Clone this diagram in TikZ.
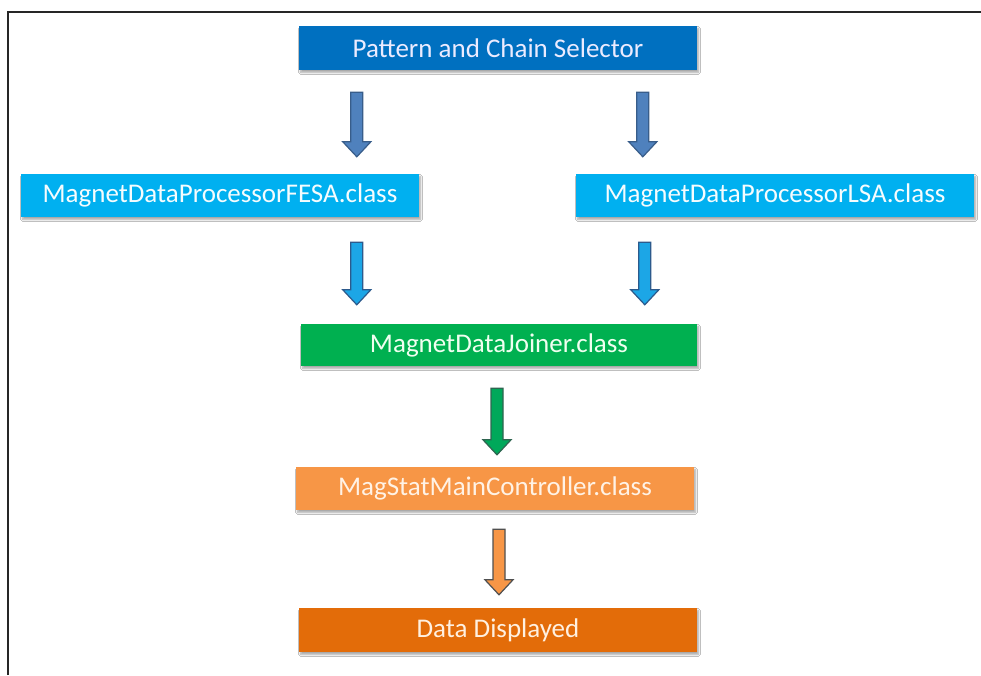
\documentclass[tikz,border=0pt]{standalone}
\usepackage{fontspec}
\setmainfont{Carlito}
\usetikzlibrary{calc,shadows.blur}

\definecolor{selblue}{HTML}{0070C0}
\definecolor{procblue}{HTML}{00B0F0}
\definecolor{joingreen}{HTML}{00B050}
\definecolor{ctrlorange}{HTML}{F79646}
\definecolor{disporange}{HTML}{E36C09}
\definecolor{steel}{HTML}{4F81BD}
\definecolor{steeldark}{HTML}{385D8A}
\definecolor{skyarrow}{HTML}{1CA6E6}
\definecolor{skyedge}{HTML}{2C5A8C}
\definecolor{greenarrow}{HTML}{00A85A}
\definecolor{greenedge}{HTML}{2F6550}
\definecolor{orangeedge}{HTML}{505050}

\tikzset{
  stage/.style={rectangle, minimum width=398pt, minimum height=43pt,
    inner sep=0pt, font=\fontsize{27}{31}\selectfont,
    blur shadow={shadow xshift=1.5pt, shadow yshift=-2.5pt,
      shadow blur steps=6, shadow opacity=35}},
  blockarrow/.style={line width=1.2pt, line join=miter}
}

% block arrow from a start point (top of shaft) to an end point (tip)
\newcommand\blockarrow[3]{%
  \draw[blockarrow,#1] let \p1=(#2), \p2=(#3) in
    (\x1-6pt,\y1) -- (\x1+6pt,\y1) -- (\x1+6pt,\y2+15pt) -- (\x1+14pt,\y2+15pt)
    -- (\x1,\y2) -- (\x1-14pt,\y2+15pt) -- (\x1-6pt,\y2+15pt) -- cycle;}

\begin{document}
\begin{tikzpicture}[x=1pt,y=-1pt]
  \useasboundingbox (0,0) rectangle (981,675);
  \fill[white] (0,0) rectangle (981,675);

  % frame edges
  \draw[line width=2.2pt, black!85] (8,675) -- (8,12) -- (981,12);

  % stages
  \node[stage, fill=selblue, text=blue!8!white, minimum height=44pt] (sel) at (498,48) {Pattern and Chain Selector};
  \node[stage, fill=procblue, text=white!96!cyan] (fesa) at (220,195.5) {MagnetDataProcessorFESA.class};
  \node[stage, fill=procblue, text=white!96!cyan] (lsa) at (775,195.5) {MagnetDataProcessorLSA.class};
  \node[stage, fill=joingreen, text=green!6!white, minimum width=396pt, minimum height=42pt] (join) at (499,345) {MagnetDataJoiner.class};
  \node[stage, fill=ctrlorange, text=orange!10!white] (ctrl) at (495,488.5) {MagStatMainController.class};
  \node[stage, fill=disporange, text=orange!12!white, minimum height=44pt] (disp) at (498,630) {Data Displayed};

  % arrow end points, placed relative to the stages they join
  \coordinate (a1s) at ($(sel.south west)+(58,22)$);
  \coordinate (a1e) at ($(fesa.north west)+(336,-17)$);
  \coordinate (a2s) at ($(sel.south west)+(344,22)$);
  \coordinate (a2e) at ($(lsa.north west)+(67,-17)$);
  \coordinate (a3s) at ($(fesa.south west)+(336,25)$);
  \coordinate (a3e) at ($(join.north west)+(56,-19)$);
  \coordinate (a4s) at ($(lsa.south west)+(69,25)$);
  \coordinate (a4e) at ($(join.north west)+(344,-19)$);
  \coordinate (a5s) at ($(join.south)+(-2,22)$);
  \coordinate (a5e) at ($(ctrl.north)+(2,-12)$);
  \coordinate (a6s) at ($(ctrl.south)+(4,19)$);
  \coordinate (a6e) at ($(disp.north)+(1,-13)$);

  % connectors
  \blockarrow{fill=steel, draw=steeldark}{a1s}{a1e}
  \blockarrow{fill=steel, draw=steeldark}{a2s}{a2e}
  \blockarrow{fill=skyarrow, draw=skyedge}{a3s}{a3e}
  \blockarrow{fill=skyarrow, draw=skyedge}{a4s}{a4e}
  \blockarrow{fill=greenarrow, draw=greenedge}{a5s}{a5e}
  \blockarrow{fill=ctrlorange, draw=orangeedge}{a6s}{a6e}
\end{tikzpicture}
\end{document}
